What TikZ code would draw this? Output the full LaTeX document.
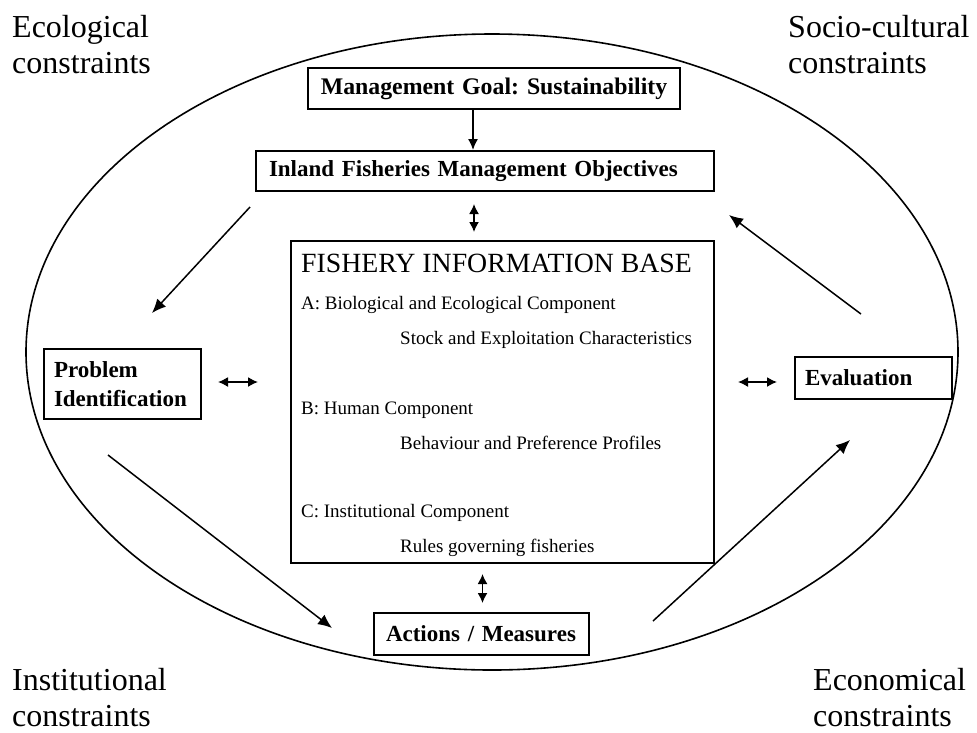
\documentclass[tikz,border=0pt]{standalone}
\usepackage{fontspec}
\setmainfont{Liberation Serif}
\usetikzlibrary{arrows.meta}
\frenchspacing
\begin{document}
\begin{tikzpicture}[x=1pt,y=-1pt,
  box/.style={draw, line width=2pt, anchor=north west, align=left, inner ysep=0pt,
    font=\fontsize{23}{29}\selectfont\bfseries},
  corner/.style={anchor=base west, align=left, inner sep=0pt, text width=190pt,
    font=\fontsize{32}{36}\selectfont},
  info/.style={anchor=base west, inner sep=0pt, font=\fontsize{19}{22}\selectfont},
  arr/.style={line width=1.5pt, -{Latex[length=11pt,width=10pt]}},
  darr/.style={line width=1.5pt, {Latex[length=10pt,width=10pt]}-{Latex[length=10pt,width=10pt]}},
  diag/.style={line width=1.5pt, -{Latex[length=14pt,width=12pt]}}]
\useasboundingbox (0,0) rectangle (977,732);
% surrounding ellipse
\draw[line width=1.6pt] (492,352) ellipse [x radius=466, y radius=318];
% corner labels
\node[corner] (eco) at (12,37) {Ecological\\constraints};
\node[corner] (soc) at (788,37) {Socio-cultural\\constraints};
\node[corner] (ins) at (12,690) {Institutional\\constraints};
\node[corner] (ecn) at (813,690) {Economical\\constraints};
% boxes
\node[box, align=center, font=\fontsize{23.8}{29}\selectfont\bfseries, inner xsep=8pt, text width=356pt, minimum height=41pt] (mgmt) at (307,67) {Management Goal: Sustainability};
\node[box, inner xsep=13pt, text width=432pt, minimum height=40pt] (inland) at (255,150) {Inland Fisheries Management Objectives};
\node[draw, line width=2pt, anchor=north west, minimum width=423pt, minimum height=322pt, inner sep=0pt] (info) at (290,240) {};
\node[box, inner xsep=10pt, text width=137pt, minimum height=70pt] (prob) at (43,348) {Problem\\Identification};
\node[box, inner xsep=10pt, text width=137pt, minimum height=42pt] (eval) at (794,356) {Evaluation};
\node[box, inner xsep=12pt, text width=191pt, minimum height=42pt] (act) at (373,612) {Actions / Measures};
% info base contents
\node[info, font=\fontsize{27.8}{30}\selectfont] (ititle) at (301,272) {FISHERY INFORMATION BASE};
\node[info] (ia) at (301,309) {A: Biological and Ecological Component};
\node[info] (ia2) at (400,344) {Stock and Exploitation Characteristics};
\node[info] (ib) at (301,414) {B: Human Component};
\node[info] (ib2) at (400,449) {Behaviour and Preference Profiles};
\node[info] (ic) at (301,517) {C: Institutional Component};
\node[info] (ic2) at (400,552) {Rules governing fisheries};
% vertical connectors
\draw[arr] ([xshift=-21pt]mgmt.south) -- ([xshift=-21pt]mgmt.south |- inland.north);
\draw[darr, shorten <=12pt, shorten >=8pt] ([xshift=-11pt]inland.south) -- ([xshift=-11pt]inland.south |- info.north);
\draw[darr, shorten <=10pt, shorten >=9pt] ([xshift=-20pt]info.south) -- ([xshift=-20pt]info.south |- act.north);
% horizontal connectors
\draw[darr, shorten <=16pt, shorten >=32pt] ([yshift=2pt]prob.east) -- ([yshift=2pt]prob.east -| info.west);
\draw[darr, shorten <=23pt, shorten >=17pt] ([yshift=-4pt]eval.west -| info.east) -- ([yshift=-4pt]eval.west);
% diagonal connectors
\coordinate (d1s) at (250,207); \coordinate (d1e) at (152,313);
\coordinate (d2s) at (861,314); \coordinate (d2e) at (729,215);
\coordinate (d3s) at (108,455); \coordinate (d3e) at (332,628);
\coordinate (d4s) at (653,621); \coordinate (d4e) at (850,440);
\draw[diag] (d1s) -- (d1e);
\draw[diag] (d2s) -- (d2e);
\draw[diag] (d3s) -- (d3e);
\draw[diag] (d4s) -- (d4e);
\end{tikzpicture}
\end{document}
